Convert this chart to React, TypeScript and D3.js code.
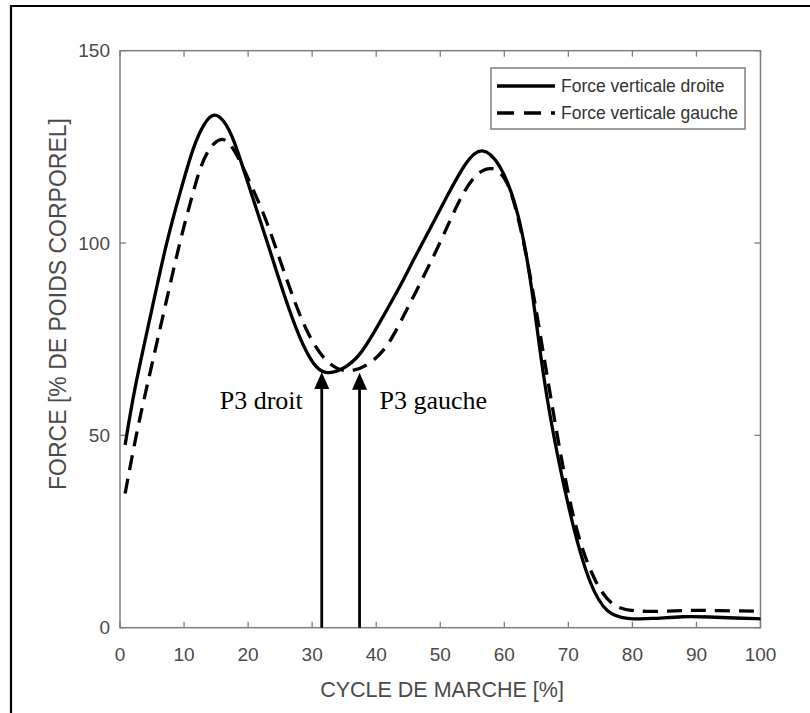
import React from "react";
import * as d3 from "d3";

const droiteX = [0.8, 2.2, 4.5, 7.3, 9.5, 11.4, 13.2, 14.7, 16.2, 17.7, 20.3, 22.9, 25.5, 28.1, 30.2, 32.0, 34.5, 37.5, 40.6, 43.7, 45.8, 48.5, 51.0, 54.1, 56.5, 59.3, 61.9, 64.0, 66.1, 68.2, 70.8, 73.4, 76.0, 79.1, 83, 88, 92, 96, 100];
const droiteY = [47.5, 61.8, 79, 100.8, 113.8, 125, 131.5, 134.0, 132, 127.6, 113.8, 100.8, 86.9, 74.8, 68.2, 65.8, 66.8, 70.4, 79.5, 88.6, 95.6, 104, 112, 121.6, 125.3, 121.0, 110.3, 93.0, 64.4, 45.3, 25.4, 10.7, 3.5, 2.2, 2.3, 3.0, 2.8, 2.5, 2.3];

const gaucheX = [0.8, 2.5, 3.9, 4.9, 7, 9.4, 11, 12.5, 14, 15.8, 17.2, 18.7, 20.8, 22.9, 26, 29.1, 32.3, 35.4, 38.5, 41.4, 43.2, 45.8, 50, 53.1, 55.7, 58.2, 60.0, 61.4, 63.5, 66.1, 68.7, 71.3, 74.4, 77, 80.2, 85, 89, 93, 100];
const gaucheY = [34.9, 50, 60.5, 67.8, 83.2, 100.8, 110.6, 119.8, 125.0, 127.6, 126.0, 121.6, 113.8, 106, 90.4, 76.5, 68.4, 66.2, 67.8, 72.2, 77.5, 86, 99.9, 112, 118.5, 120.0, 117.5, 112, 97.3, 71.3, 45.3, 23.7, 10.7, 5.3, 4.2, 4.2, 4.6, 4.4, 4.3];

const xTicks = [0, 10, 20, 30, 40, 50, 60, 70, 80, 90, 100];
const yTicks = [0, 50, 100, 150];

const seriesNames = ["Force verticale droite", "Force verticale gauche"];
const arrowLabels = ["P3 droit", "P3 gauche"];
const arrowX = [31.5, 37.4];
const arrowY = [66.5, 66.3];

const xLabel = "CYCLE DE MARCHE [%]";
const yLabel = "FORCE [% DE POIDS CORPOREL]";

const W = 810;
const H = 713;
const left = 120, right = 760.5, top = 50.7, bottom = 627.7;

export default function App() {
  const x = d3.scaleLinear().domain([0, 100]).range([left, right]);
  const y = d3.scaleLinear().domain([0, 150]).range([bottom, top]);

  const line = d3
    .line<[number, number]>()
    .x((d) => x(d[0]))
    .y((d) => y(d[1]))
    .curve(d3.curveBasis);

  const droite = droiteX.map((v, i) => [v, droiteY[i]] as [number, number]);
  const gauche = gaucheX.map((v, i) => [v, gaucheY[i]] as [number, number]);

  const axisColor = "#7f7f7f";
  const textColor = "#4a4a4a";
  const sans = "'Liberation Sans', Arial, Helvetica, sans-serif";
  const serif = "'Liberation Serif', 'Times New Roman', serif";
  const tick = 6;

  return (
    <div style={{ position: "absolute", left: 0, top: 0 }}>
      <svg width={W} height={H} style={{ display: "block", background: "#fff" }}>
        <rect x={0} y={0} width={W} height={H} fill="#fff" />
        {/* outer frame */}
        <path d={`M11,${H + 2} V6 H${W + 2}`} fill="none" stroke="#000" strokeWidth={2.2} />

        {/* axes box */}
        <rect x={left} y={top} width={right - left} height={bottom - top} fill="none" stroke={axisColor} strokeWidth={1.5} />

        {/* x ticks */}
        {xTicks.map((t) => (
          <g key={"xt" + t}>
            <line x1={x(t)} x2={x(t)} y1={bottom} y2={bottom - tick} stroke={axisColor} strokeWidth={1.3} />
            <line x1={x(t)} x2={x(t)} y1={top} y2={top + tick} stroke={axisColor} strokeWidth={1.3} />
            <text x={x(t)} y={661} textAnchor="middle" fontFamily={sans} fontSize={19} fill={textColor}>
              {t}
            </text>
          </g>
        ))}
        {/* y ticks */}
        {yTicks.map((t) => (
          <g key={"yt" + t}>
            <line x1={left} x2={left + tick} y1={y(t)} y2={y(t)} stroke={axisColor} strokeWidth={1.3} />
            <line x1={right} x2={right - tick} y1={y(t)} y2={y(t)} stroke={axisColor} strokeWidth={1.3} />
            <text x={left - 10} y={y(t)} dy="0.35em" textAnchor="end" fontFamily={sans} fontSize={19} fill={textColor}>
              {t}
            </text>
          </g>
        ))}

        {/* axis labels */}
        <text x={442} y={697} textAnchor="middle" fontFamily={sans} fontSize={21.5} fill={textColor}>
          {xLabel}
        </text>
        <text
          transform={`translate(66, 304) rotate(-90)`}
          textAnchor="middle"
          fontFamily={sans}
          fontSize={23}
          fill={textColor}
        >
          {yLabel}
        </text>

        {/* curves */}
        <path d={line(droite) || ""} fill="none" stroke="#000" strokeWidth={3.3} strokeLinejoin="round" />
        <path d={line(gauche) || ""} fill="none" stroke="#000" strokeWidth={3.3} strokeDasharray="15,9" />

        {/* arrows */}
        {arrowX.map((ax, i) => {
          const tipY = y(arrowY[i]);
          const px = x(ax);
          return (
            <g key={"ar" + i}>
              <line x1={px} x2={px} y1={y(0)} y2={tipY + 15} stroke="#000" strokeWidth={2.8} />
              <path d={`M${px},${tipY} L${px - 7.5},${tipY + 17} L${px + 7.5},${tipY + 17} Z`} fill="#000" />
            </g>
          );
        })}
        <text x={x(arrowX[0]) - 19} y={409} textAnchor="end" fontFamily={serif} fontSize={26} fill="#000">
          {arrowLabels[0]}
        </text>
        <text x={x(arrowX[1]) + 20} y={409} textAnchor="start" fontFamily={serif} fontSize={26} fill="#000">
          {arrowLabels[1]}
        </text>

        {/* legend */}
        <rect x={491} y={68} width={254} height={61} fill="#fff" stroke={axisColor} strokeWidth={1.5} />
        <line x1={497} x2={555} y1={86} y2={86} stroke="#000" strokeWidth={3.4} />
        <line x1={497} x2={555} y1={113} y2={113} stroke="#000" strokeWidth={3.4} strokeDasharray="17,10" />
        <text x={561} y={92} fontFamily={sans} fontSize={17.5} fill="#333">
          {seriesNames[0]}
        </text>
        <text x={561} y={119} fontFamily={sans} fontSize={17.5} fill="#333">
          {seriesNames[1]}
        </text>
      </svg>
    </div>
  );
}
